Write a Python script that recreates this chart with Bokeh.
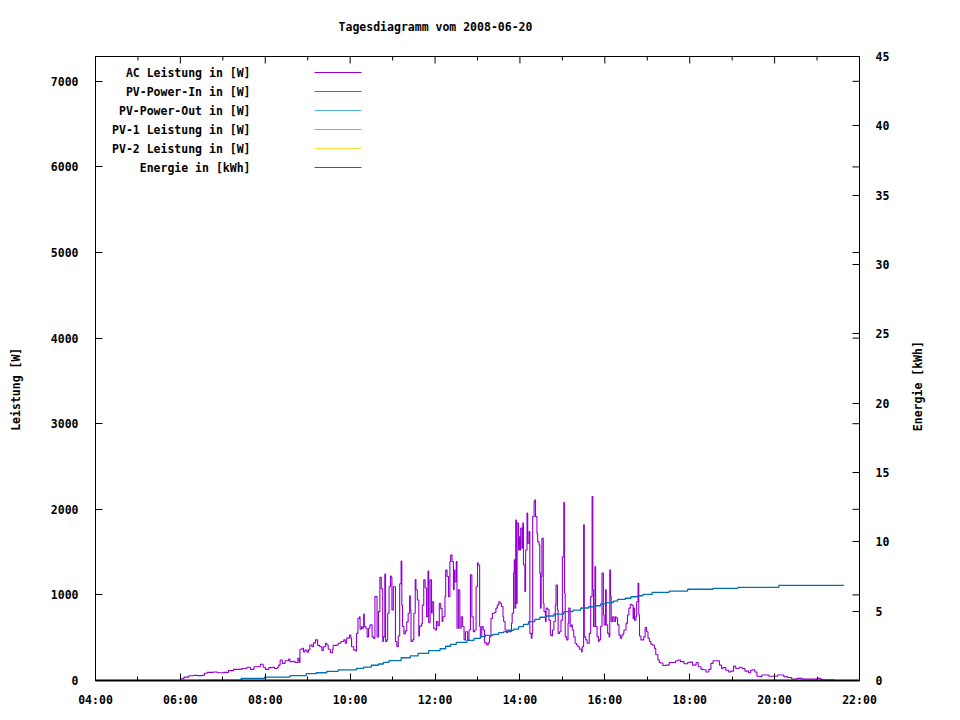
import math
from bokeh.plotting import figure
from bokeh.models import Range1d, LinearAxis, FixedTicker
from bokeh.layouts import column, row
from bokeh.embed import file_html
from bokeh.resources import INLINE
from bokeh.core.properties import value

# ---------------- data ----------------
title_text = "Tagesdiagramm vom 2008-06-20"
y_label = "Leistung [W]"
y2_label = "Energie [kWh]"

series_names = ["AC Leistung in [W]", "PV-Power-In in [W]", "PV-Power-Out in [W]",
                "PV-1 Leistung in [W]", "PV-2 Leistung in [W]", "Energie in [kWh]"]
series_colors = ["#9400D3", "#009E73", "#56B4E9", "#E69F00", "#F0E442", "#0072B2"]

x_ticks = [4, 6, 8, 10, 12, 14, 16, 18, 20, 22]
x_tick_labels = ["04:00", "06:00", "08:00", "10:00", "12:00", "14:00", "16:00", "18:00", "20:00", "22:00"]
x_minor_ticks = [5, 7, 9, 11, 13, 15, 17, 19, 21]
y_ticks = [0, 1000, 2000, 3000, 4000, 5000, 6000, 7000]
y2_ticks = [0, 5, 10, 15, 20, 25, 30, 35, 40, 45]

ac_time = [
    "06:00", "06:05", "06:12", "06:19", "06:24", "06:31", "06:34", "06:38", "06:47", "06:52",
    "06:57", "07:01", "07:08", "07:15", "07:23", "07:27", "07:34", "07:39", "07:44", "07:49",
    "07:53", "07:57", "08:00", "08:05", "08:10", "08:13", "08:17", "08:19", "08:21", "08:24",
    "08:26", "08:28", "08:33", "08:35", "08:40", "08:42", "08:46", "08:48", "08:49", "08:52",
    "08:54", "08:56", "08:59", "09:01", "09:03", "09:06", "09:08", "09:11", "09:14", "09:17",
    "09:20", "09:22", "09:25", "09:27", "09:29", "09:32", "09:35", "09:36", "09:41", "09:43",
    "09:47", "09:51", "09:53", "09:55", "09:59", "10:01", "10:02", "10:05", "10:08", "10:09",
    "10:11", "10:13", "10:14", "10:16", "10:17", "10:19", "10:20", "10:22", "10:24", "10:26",
    "10:28", "10:31", "10:33", "10:35", "10:38", "10:40", "10:42", "10:44", "10:46", "10:47",
    "10:49", "10:50", "10:52", "10:53", "10:55", "10:57", "10:58", "10:59", "11:01", "11:04",
    "11:06", "11:08", "11:10", "11:12", "11:13", "11:14", "11:16", "11:18", "11:20", "11:22",
    "11:24", "11:25", "11:26", "11:28", "11:30", "11:32", "11:33", "11:35", "11:37", "11:38",
    "11:41", "11:42", "11:44", "11:46", "11:48", "11:50", "11:51", "11:53", "11:55", "11:56",
    "11:58", "12:00", "12:02", "12:04", "12:06", "12:08", "12:10", "12:11", "12:14", "12:15",
    "12:17", "12:19", "12:21", "12:22", "12:24", "12:26", "12:27", "12:28", "12:30", "12:31",
    "12:33", "12:35", "12:37", "12:39", "12:41", "12:43", "12:46", "12:48", "12:50", "12:52",
    "12:54", "12:56", "12:58", "13:00", "13:01", "13:03", "13:04", "13:06", "13:08", "13:10",
    "13:13", "13:15", "13:17", "13:19", "13:21", "13:24", "13:26", "13:28", "13:30", "13:32",
    "13:34", "13:36", "13:37", "13:39", "13:41", "13:43", "13:45", "13:48", "13:49", "13:51",
    "13:52", "13:53", "13:54", "13:55", "13:56", "13:58", "13:59", "14:00", "14:01", "14:03",
    "14:04", "14:05", "14:07", "14:08", "14:10", "14:11", "14:13", "14:14", "14:16", "14:17",
    "14:18", "14:20", "14:21", "14:22", "14:24", "14:25", "14:27", "14:28", "14:29", "14:30",
    "14:31", "14:33", "14:34", "14:36", "14:37", "14:39", "14:41", "14:43", "14:45", "14:46",
    "14:48", "14:50", "14:51", "14:53", "14:54", "14:56", "14:58", "15:00", "15:02", "15:03",
    "15:04", "15:06", "15:08", "15:09", "15:11", "15:13", "15:14", "15:16", "15:18", "15:20",
    "15:22", "15:24", "15:27", "15:28", "15:30", "15:31", "15:33", "15:35", "15:36", "15:38",
    "15:40", "15:42", "15:43", "15:44", "15:46", "15:47", "15:49", "15:51", "15:52", "15:54",
    "15:56", "15:58", "15:59", "16:01", "16:02", "16:04", "16:06", "16:07", "16:08", "16:09",
    "16:11", "16:13", "16:15", "16:16", "16:18", "16:20", "16:22", "16:24", "16:26", "16:27",
    "16:30", "16:32", "16:34", "16:36", "16:38", "16:40", "16:41", "16:42", "16:44", "16:45",
    "16:47", "16:48", "16:49", "16:51", "16:53", "16:55", "16:57", "16:59", "17:01", "17:03",
    "17:05", "17:07", "17:10", "17:12", "17:15", "17:17", "17:19", "17:22", "17:26", "17:31",
    "17:36", "17:40", "17:44", "17:47", "17:52", "17:57", "17:59", "18:04", "18:09", "18:12",
    "18:16", "18:19", "18:23", "18:27", "18:30", "18:33", "18:38", "18:42", "18:45", "18:47",
    "18:51", "18:55", "18:58", "19:02", "19:05", "19:10", "19:14", "19:18", "19:23", "19:26",
    "19:29", "19:32", "19:35", "19:39", "19:42", "19:50", "19:52", "20:00", "20:04", "20:08",
    "20:13", "20:18", "20:24", "20:30", "20:32", "20:37", "20:39", "20:58", "21:00", "21:05",
    "21:07", "21:25",
]
ac_watt = [
    20, 40, 55, 60, 57, 60, 85, 95, 100, 90,
    90, 95, 115, 130, 130, 140, 155, 130, 160, 160,
    190, 155, 130, 150, 155, 140, 155, 180, 240, 200,
    200, 230, 250, 220, 225, 210, 260, 210, 365, 375,
    335, 355, 330, 360, 415, 395, 440, 475, 410, 395,
    350, 395, 435, 415, 365, 325, 365, 410, 415, 435,
    455, 475, 435, 495, 530, 495, 395, 355, 345, 550,
    725, 745, 600, 630, 610, 775, 630, 610, 510, 610,
    650, 510, 490, 980, 510, 805, 1205, 1070, 455, 510,
    1245, 455, 475, 785, 1095, 1220, 1205, 825, 1095, 455,
    395, 520, 1130, 1395, 880, 630, 545, 580, 685, 785,
    990, 825, 455, 475, 785, 1180, 1060, 940, 520, 635,
    665, 880, 1175, 1080, 745, 1280, 675, 1175, 785, 920,
    610, 590, 690, 640, 900, 840, 690, 745, 980, 1290,
    1215, 980, 1390, 1465, 1390, 1060, 1290, 1155, 1390, 610,
    1060, 610, 745, 630, 475, 570, 475, 590, 1235, 745,
    570, 590, 1095, 1375, 1350, 630, 510, 630, 590, 440,
    415, 440, 510, 725, 785, 795, 845, 880, 920, 900,
    865, 745, 690, 590, 560, 590, 570, 670, 785, 1255,
    1410, 845, 1875, 900, 1840, 1525, 1680, 1525, 1780, 1545,
    1840, 1350, 1040, 1525, 1955, 1605, 1740, 550, 495, 550,
    1915, 2090, 2110, 1915, 1720, 1620, 1585, 1255, 845, 1215,
    1660, 900, 805, 690, 845, 830, 705, 530, 520, 590,
    690, 880, 1115, 825, 550, 570, 705, 1445, 2080, 1020,
    510, 475, 670, 845, 630, 650, 590, 510, 435, 415,
    395, 365, 335, 395, 1820, 510, 475, 435, 435, 550,
    980, 2150, 1060, 630, 1330, 630, 510, 455, 475, 630,
    1255, 765, 650, 1060, 650, 550, 510, 1290, 980, 690,
    745, 690, 745, 730, 650, 530, 495, 530, 550, 590,
    670, 765, 845, 890, 880, 725, 845, 705, 750, 920,
    1135, 765, 520, 475, 475, 510, 620, 570, 495, 455,
    425, 415, 375, 300, 240, 210, 205, 175, 180, 210,
    210, 230, 240, 220, 195, 210, 215, 180, 210, 160,
    130, 125, 100, 130, 200, 230, 230, 180, 140, 150,
    120, 100, 110, 170, 140, 155, 140, 110, 90, 120,
    125, 100, 50, 45, 65, 65, 50, 50, 65, 65,
    45, 35, 18, 18, 25, 25, 18, 18, 25, 15,
    5, 5,
]

energy_time = [
    "06:34", "07:26", "07:59", "08:35", "08:58", "09:12", "09:27", "09:43", "10:09", "10:19",
    "10:30", "10:40", "10:47", "10:55", "11:12", "11:25", "11:36", "11:51", "12:07", "12:15",
    "12:22", "12:30", "12:45", "12:55", "13:04", "13:11", "13:22", "13:30", "13:37", "13:44",
    "13:51", "13:58", "14:05", "14:12", "14:21", "14:28", "14:37", "14:48", "15:02", "15:15",
    "15:26", "15:37", "15:44", "15:54", "16:02", "16:12", "16:18", "16:29", "16:37", "16:46",
    "16:54", "17:07", "17:31", "17:57", "18:33", "19:08", "20:06", "21:38",
]
energy_kwh = [
    0.00, 0.16, 0.25, 0.35, 0.49, 0.56, 0.66, 0.76, 0.88, 0.97,
    1.10, 1.19, 1.31, 1.44, 1.64, 1.77, 1.96, 2.15, 2.29, 2.47,
    2.61, 2.75, 2.90, 3.04, 3.16, 3.26, 3.33, 3.45, 3.52, 3.62,
    3.71, 3.88, 4.05, 4.24, 4.41, 4.56, 4.65, 4.79, 4.96, 5.08,
    5.23, 5.32, 5.39, 5.52, 5.61, 5.73, 5.85, 5.93, 6.04, 6.11,
    6.21, 6.36, 6.45, 6.58, 6.65, 6.72, 6.86, 6.86,
]

# ---------------- styling ----------------
FONT = "DejaVu Sans Mono"
FS = "11.5px"
X_MIN, X_MAX = 4, 22
Y_MAX = 7290
Y2_MAX = 45
FRAME_W, FRAME_H = 764, 624
PX_X = (X_MAX - X_MIN) / FRAME_W   # hours per pixel
PX_Y = Y_MAX / FRAME_H             # watts per pixel
PAD = "\u00a0" * 6                 # gnuplot places the y label a little below centre

TOP_H = 40                         # strip holding the title
B_LEFT, B_RIGHT, B_TOP, B_BOTTOM = 95, 50, 16, 32
MAIN_W = B_LEFT + FRAME_W + B_RIGHT
MAIN_H = B_TOP + FRAME_H + B_BOTTOM
SIDE_W = 40                        # strip holding the right axis title
TOTAL_W = MAIN_W + SIDE_W

txt = dict(text_font=value(FONT), text_font_size=FS, text_font_style="bold",
           text_color="black", text_align="center", text_baseline="middle")


def to_hours(s):
    h, m = s.split(":")
    return int(h) + int(m) / 60.0


def blank_fig(w, h):
    f = figure(width=w, height=h, x_range=Range1d(0, w), y_range=Range1d(0, h),
               output_backend="svg", toolbar_location=None, min_border=0,
               x_axis_location=None, y_axis_location=None,
               background_fill_color="white", border_fill_color="white")
    f.outline_line_color = None
    f.xgrid.visible = False
    f.ygrid.visible = False
    return f


ac_x = [to_hours(t) for t in ac_time]
en_x = [to_hours(t) for t in energy_time]

# ---------------- title strip ----------------
t = blank_fig(TOTAL_W, TOP_H)
t.text(x=[435], y=[TOP_H - 26], text=[title_text], **txt)

# ---------------- main plot ----------------
p = figure(frame_width=FRAME_W, frame_height=FRAME_H,
           x_range=Range1d(X_MIN, X_MAX), y_range=Range1d(0, Y_MAX),
           output_backend="svg", toolbar_location=None,
           min_border_left=B_LEFT, min_border_right=B_RIGHT,
           min_border_top=B_TOP, min_border_bottom=B_BOTTOM,
           background_fill_color="white", border_fill_color="white")
p.extra_y_ranges = {"energy": Range1d(0, Y2_MAX)}

p.xgrid.visible = False
p.ygrid.visible = False
p.outline_line_color = "black"
p.outline_line_width = 1


def style_axis(ax):
    ax.major_label_text_font = FONT
    ax.major_label_text_font_size = FS
    ax.major_label_text_font_style = "bold"
    ax.major_label_text_color = "black"
    ax.axis_label_text_font = FONT
    ax.axis_label_text_font_size = FS
    ax.axis_label_text_font_style = "bold"
    ax.axis_label_text_color = "black"
    ax.axis_line_color = "black"
    ax.major_tick_line_color = "black"
    ax.minor_tick_line_color = "black"
    ax.major_tick_in = 7
    ax.major_tick_out = 0
    ax.minor_tick_in = 4
    ax.minor_tick_out = 0


# bottom axis
xa = p.xaxis[0]
xa.ticker = FixedTicker(ticks=x_ticks, minor_ticks=x_minor_ticks)
xa.major_label_overrides = {tk: lab for tk, lab in zip(x_ticks, x_tick_labels)}
style_axis(xa)
xa.major_label_standoff = 12
xa.axis_line_width = 2

# left axis
ya = p.yaxis[0]
ya.ticker = FixedTicker(ticks=y_ticks, minor_ticks=[])
ya.axis_label = y_label + PAD
style_axis(ya)
ya.major_label_standoff = 17
ya.axis_label_standoff = 25

# right axis (energy); its title sits in the side strip
y2 = LinearAxis(y_range_name="energy", ticker=FixedTicker(ticks=y2_ticks, minor_ticks=[]))
style_axis(y2)
y2.major_label_standoff = 16
p.add_layout(y2, "right")

# mirrored ticks (top border: x ticks, right border: left-axis ticks)
p.segment(x0=x_ticks, y0=[Y_MAX] * len(x_ticks), x1=x_ticks,
          y1=[Y_MAX - 7 * PX_Y] * len(x_ticks), line_color="black", line_width=1)
p.segment(x0=x_minor_ticks, y0=[Y_MAX] * len(x_minor_ticks), x1=x_minor_ticks,
          y1=[Y_MAX - 4 * PX_Y] * len(x_minor_ticks), line_color="black", line_width=1)
p.segment(x0=[X_MAX] * len(y_ticks), y0=y_ticks, x1=[X_MAX - 7 * PX_X] * len(y_ticks),
          y1=y_ticks, line_color="black", line_width=1)

# data lines
p.step(x=ac_x, y=ac_watt, mode="after", line_color=series_colors[0], line_width=1.1)
p.step(x=en_x, y=energy_kwh, mode="after", line_color=series_colors[5], line_width=1.3,
       y_range_name="energy")

# legend (text left, sample right, like gnuplot)
leg_text_x = X_MIN + 155 * PX_X
leg_x0, leg_x1 = X_MIN + 219 * PX_X, X_MIN + 266 * PX_X
leg_y0, leg_dy = Y_MAX - 16 * PX_Y, 19 * PX_Y
leg_y = [leg_y0 - i * leg_dy for i in range(len(series_names))]
p.text(x=[leg_text_x] * len(series_names), y=leg_y, text=series_names,
       text_align="right", text_baseline="middle",
       text_font=value(FONT), text_font_size=FS, text_font_style="bold", text_color="black")
p.segment(x0=[leg_x0] * len(series_names), y0=leg_y,
          x1=[leg_x1] * len(series_names), y1=leg_y,
          line_color=series_colors, line_width=1)

# ---------------- right title strip ----------------
s = blank_fig(SIDE_W, MAIN_H)
s.text(x=[917 - MAIN_W], y=[MAIN_H - (395 - TOP_H)], text=[y2_label], angle=math.pi / 2, **txt)

layout = column(t, row(p, s))
open("out.html", "w").write(file_html(layout, INLINE))
